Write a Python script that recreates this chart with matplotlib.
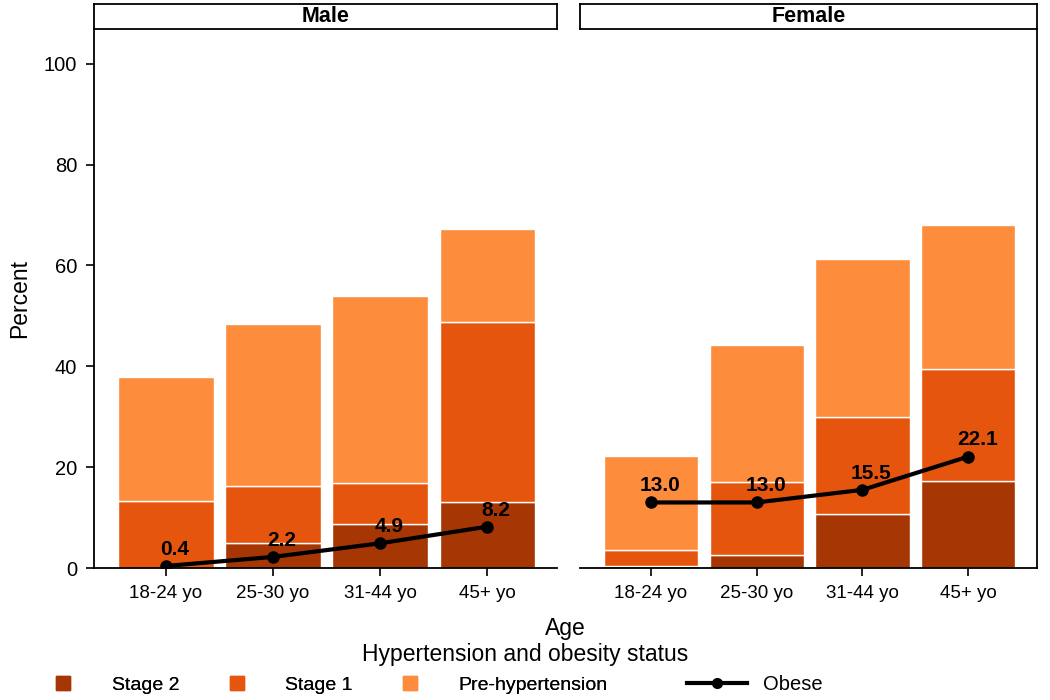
import matplotlib
matplotlib.use("Agg")
import matplotlib.pyplot as plt
from matplotlib.lines import Line2D
import numpy as np

plt.rcParams["font.family"] = ["Liberation Sans", "DejaVu Sans"]

# data (percent)
ages = ["18-24 yo", "25-30 yo", "31-44 yo", "45+ yo"]
panels = ["Male", "Female"]

male_stage2 = [0.0, 5.0, 8.7, 13.1]
male_stage1 = [13.3, 11.3, 8.2, 35.6]
male_prehyp = [24.6, 32.1, 37.0, 18.6]
male_obese = [0.4, 2.2, 4.9, 8.2]

female_stage2 = [0.4, 2.6, 10.7, 17.3]
female_stage1 = [3.2, 14.4, 19.2, 22.1]
female_prehyp = [18.6, 27.2, 31.3, 28.6]
female_obese = [13.0, 13.0, 15.5, 22.1]

c_stage2 = "#A63603"
c_stage1 = "#E6550D"
c_prehyp = "#FD8D3C"

fig = plt.figure(figsize=(10.5, 7), dpi=100)

W, H = 1050, 700
def fbox(x0, y0, x1, y1):
    # pixel box -> figure fractions
    return [x0 / W, 1 - y1 / H, (x1 - x0) / W, (y1 - y0) / H]

ax_m = fig.add_axes(fbox(94, 29, 557, 568))
ax_f = fig.add_axes(fbox(580, 29, 1037, 568))

data = {
    "Male": (male_stage2, male_stage1, male_prehyp, male_obese),
    "Female": (female_stage2, female_stage1, female_prehyp, female_obese),
}

x = np.arange(len(ages))
for ax, name in zip([ax_m, ax_f], panels):
    s2, s1, pre, ob = data[name]
    s2 = np.array(s2); s1 = np.array(s1); pre = np.array(pre)
    ax.bar(x, s2, width=0.89, color=c_stage2, edgecolor="white", linewidth=1)
    ax.bar(x, s1, width=0.89, bottom=s2, color=c_stage1, edgecolor="white", linewidth=1)
    ax.bar(x, pre, width=0.89, bottom=s2 + s1, color=c_prehyp, edgecolor="white", linewidth=1)
    ax.plot(x, ob, color="black", lw=3, marker="o", markersize=8, zorder=5)
    for xi, v in zip(x, ob):
        ax.annotate(f"{v:.1f}", (xi, v), xytext=(6.5, 8), textcoords="offset points",
                    ha="center", va="baseline", fontsize=15, fontweight="bold", zorder=6)
    ax.set_xlim(-0.67, 3.65)
    ax.set_ylim(0, 106.9)
    ax.set_xticks(x)
    ax.set_xticklabels(ages, fontsize=13.5)
    ax.set_yticks([0, 20, 40, 60, 80, 100])
    ax.tick_params(axis="both", length=6, width=1.2, direction="out", pad=6)
    ax.tick_params(axis="y", labelsize=14.5)
    for sp in ax.spines.values():
        sp.set_linewidth(1.3)
    ax.spines["top"].set_visible(False)

    # panel strip
    pos = ax.get_position()
    sax = fig.add_axes([pos.x0, 1 - 29 / H, pos.width, 25 / H])
    sax.set_xticks([]); sax.set_yticks([])
    for sp in sax.spines.values():
        sp.set_linewidth(1.3)
    sax.text(0.5, 0.5, name, ha="center", va="center", fontsize=15.5, fontweight="bold",
             transform=sax.transAxes)

ax_m.spines["right"].set_visible(False)
ax_f.spines["left"].set_visible(False)
ax_f.tick_params(axis="y", left=False, labelleft=False)

ax_m.set_ylabel("Percent", fontsize=16.5, labelpad=9)

fig.text(565 / W, 1 - 629 / H, "Age", ha="center", va="center", fontsize=16.5)
fig.text(525 / W, 1 - 655 / H, "Hypertension and obesity status", ha="center", va="center", fontsize=16.5)

# legend
sq = [Line2D([], [], marker="s", linestyle="none", markersize=9.5, color=c) for c in (c_stage2, c_stage1, c_prehyp)]
leg1 = fig.legend(sq, ["Stage 2", "Stage 1", "Pre-hypertension"], loc="center left",
                  bbox_to_anchor=(34 / W, 1 - 685 / H), ncol=3, frameon=False, fontsize=14,
                  handlelength=3, handletextpad=1.0, columnspacing=1.45, borderpad=0, borderaxespad=0)
ob_handle = Line2D([], [], color="black", lw=3, marker="o", markersize=7)
fig.legend([ob_handle], ["Obese"], loc="center left", bbox_to_anchor=(687 / W, 1 - 685 / H),
           frameon=False, fontsize=14.5, handlelength=3, handletextpad=0.75, borderpad=0, borderaxespad=0)
fig.add_artist(leg1)

fig.savefig("out.png", dpi=100)
